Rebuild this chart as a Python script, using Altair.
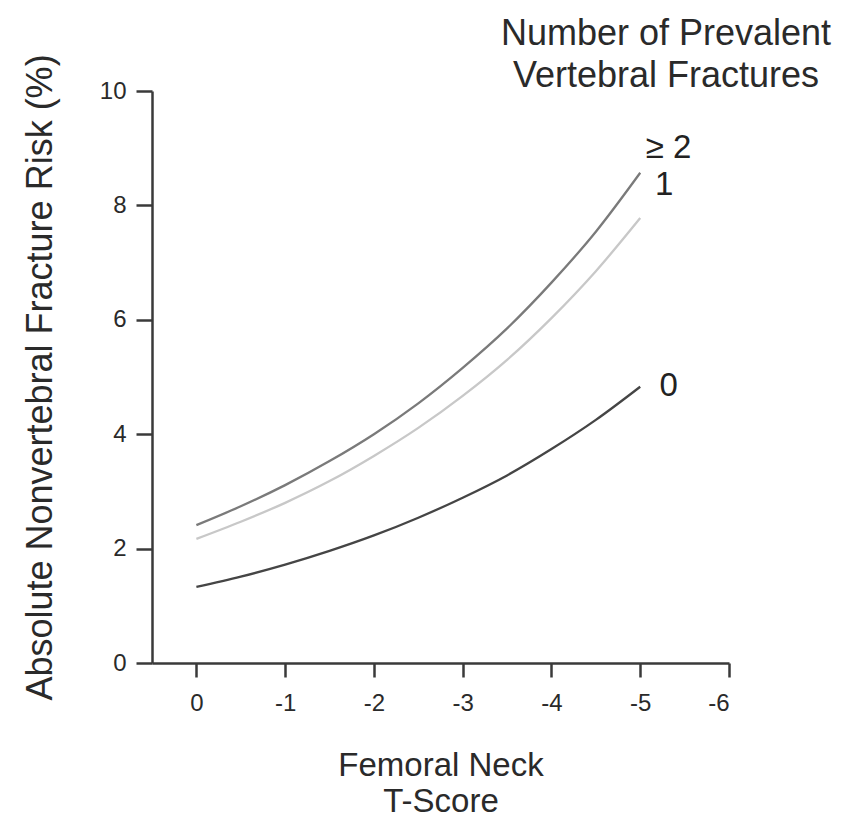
import altair as alt
import pandas as pd

# Femoral neck T-score (x) and absolute nonvertebral fracture risk (%) per group
tscore = [0, -0.5, -1, -1.5, -2, -2.5, -3, -3.5, -4, -4.5, -5]
risk_ge2 = [2.41, 2.74, 3.11, 3.53, 4.00, 4.54, 5.16, 5.85, 6.65, 7.54, 8.57]
risk_1 = [2.17, 2.47, 2.80, 3.18, 3.62, 4.11, 4.67, 5.30, 6.03, 6.85, 7.78]
risk_0 = [1.33, 1.51, 1.72, 1.96, 2.23, 2.54, 2.89, 3.28, 3.74, 4.25, 4.83]

series_names = ["ge2", "one", "zero"]
series_colors = ["#7a7a7a", "#c8c8c8", "#454545"]

x_ticks = [0, -1, -2, -3, -4, -5, -6]
y_ticks = [0, 2, 4, 6, 8, 10]

# curve end labels
lab_text = ["\u2265 2", "1", "0"]
lab_x = [-5.32, -5.27, -5.32]
lab_y = [8.83, 8.18, 4.67]

# legend-title lines
head_text = ["Number of Prevalent", "Vertebral Fractures"]
head_x = [-5.29, -5.29]
head_y = [10.80, 10.07]

rows = []
for name, vals in zip(series_names, [risk_ge2, risk_1, risk_0]):
    for t, v in zip(tscore, vals):
        rows.append({"t": t, "risk": v, "series": name})
df = pd.DataFrame(rows)

labels = pd.DataFrame({"text": lab_text, "t": lab_x, "risk": lab_y})
heads = pd.DataFrame({"text": head_text, "t": head_x, "risk": head_y})

FONT = "Liberation Sans"

xscale = alt.Scale(domain=[0.5, -6], nice=False, zero=False)
yscale = alt.Scale(domain=[0, 10], nice=False)

lines = alt.Chart(df).mark_line(strokeWidth=2.3, interpolate="monotone").encode(
    x=alt.X("t:Q", scale=xscale,
            axis=alt.Axis(values=x_ticks,
                          labelExpr="datum.value == 0 ? '0' : '-' + abs(datum.value)",
                          title=["Femoral Neck", "T-Score"],
                          titleFontSize=33, titleFontWeight="normal", titleColor="#2a2a2a",
                          titleBaseline="top", titleY=86, titleLineHeight=36,
                          labelFontSize=24, labelColor="#2a2a2a", labelPadding=14,
                          tickSize=14, tickWidth=2.5, tickColor="#3a3a3a",
                          domainWidth=2.5, domainColor="#3a3a3a", grid=False)),
    y=alt.Y("risk:Q", scale=yscale,
            axis=alt.Axis(values=y_ticks, format="d",
                          title="Absolute Nonvertebral Fracture Risk (%)",
                          titleFontSize=36, titleFontWeight="normal", titleColor="#2a2a2a",
                          titleX=-112, titleBaseline="middle",
                          labelFontSize=24, labelColor="#2a2a2a", labelPadding=10,
                          tickSize=16, tickWidth=2.5, tickColor="#3a3a3a",
                          domainWidth=2.5, domainColor="#3a3a3a", grid=False)),
    color=alt.Color("series:N", scale=alt.Scale(domain=series_names, range=series_colors), legend=None),
)

lab_layer = alt.Chart(labels).mark_text(font=FONT, fontSize=33, color="#222222",
                                        align="center", baseline="alphabetic").encode(
    x=alt.X("t:Q", scale=xscale), y=alt.Y("risk:Q", scale=yscale), text="text:N")

head_layer = alt.Chart(heads).mark_text(font=FONT, fontSize=36, color="#2a2a2a",
                                        align="center", baseline="alphabetic").encode(
    x=alt.X("t:Q", scale=xscale), y=alt.Y("risk:Q", scale=yscale), text="text:N")

chart = alt.layer(lines, lab_layer, head_layer).properties(
    width=577, height=572,
    autosize=alt.AutoSizeParams(type="none"),
    padding={"left": 144, "top": 83, "right": 111, "bottom": 159},
).configure(font=FONT).configure_view(stroke=None)

chart.save("out.html", embed_options={"renderer": "svg", "actions": False})
